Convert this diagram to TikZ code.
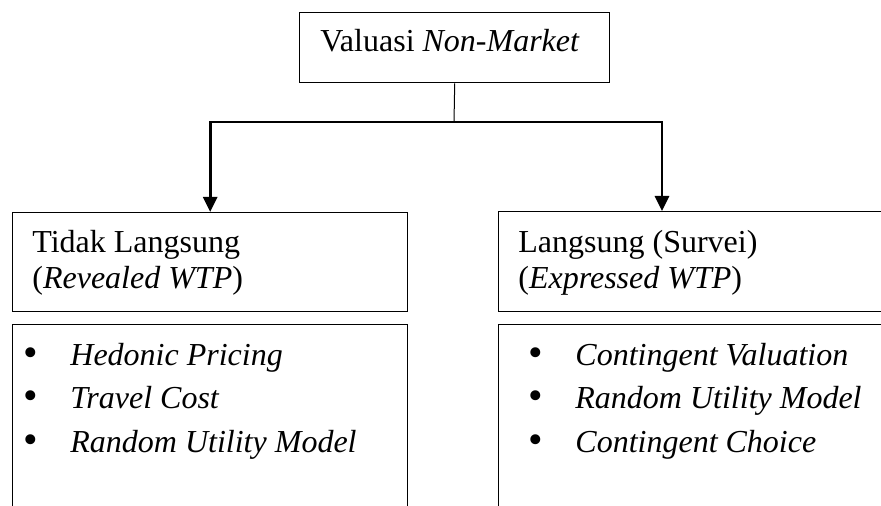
\documentclass[tikz,border=0pt]{standalone}
\usepackage{fontspec}
\setmainfont{Liberation Serif}
\usetikzlibrary{arrows.meta}
\newcommand{\itm}[1]{\makebox[23.5pt][l]{\raisebox{-0.7pt}{\scalebox{1.3}{\textbullet}}}\textit{#1}}

\begin{document}
\begin{tikzpicture}[x=0.5pt, y=-0.5pt,
    box/.style={draw, line width=0.7pt, inner sep=0pt, anchor=north west},
    txt/.style={anchor=base west, inner sep=0pt, align=left, font=\fontsize{16}{18}\selectfont},
    lst/.style={anchor=base west, inner sep=0pt, align=left, font=\fontsize{16}{21.7}\selectfont},
    conn/.style={line width=1.4pt, -{Triangle[width=7pt, length=7.5pt]}}]
    \path[use as bounding box] (0,0) rectangle (881,506);
    \clip (0,0) rectangle (881,506);
    \node[box, minimum width=155pt, minimum height=35pt] (valuasi) at (299,12) {};
    \node[box, minimum width=197.5pt, minimum height=49.5pt] (tidak) at (12,212) {};
    \node[box, minimum width=210pt, minimum height=50pt] (langsung) at (498,211) {};
    \node[box, minimum width=197.5pt, minimum height=100pt] (tidaklist) at (12,324) {};
    \node[box, minimum width=210pt, minimum height=100pt] (langsunglist) at (498,324) {};
    \node[txt] (valuasitext) at (320,52) {Valuasi \textit{Non-Market}};
    \node[txt] (tidaktext) at (32,289) {Tidak Langsung\\(\textit{Revealed WTP})};
    \node[txt] (langsungtext) at (518,289) {Langsung (Survei)\\(\textit{Expressed WTP})};
    \node[lst] (tidakitems) at (23,452) {\itm{Hedonic Pricing}\\\itm{Travel Cost}\\\itm{Random Utility Model}};
    \node[lst] (langsungitems) at (528,452) {\itm{Contingent Valuation}\\\itm{Random Utility Model}\\\itm{Contingent Choice}};
    \coordinate (split) at (454,122);
    \coordinate (drop) at (662,211);
    \draw[line width=0.5pt] (valuasi.south) -- (split);
    \draw[conn] (split) -| (tidak.north);
    \draw[conn] (split) -| (drop);
\end{tikzpicture}
\end{document}
